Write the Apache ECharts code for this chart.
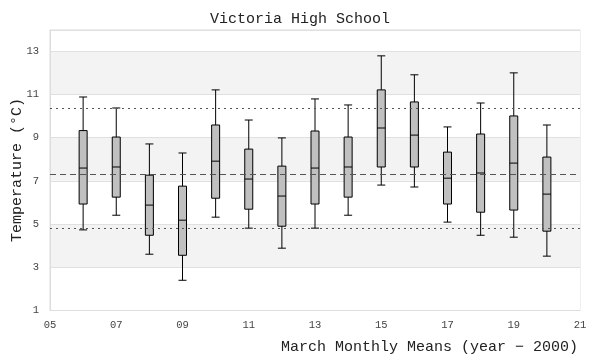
<!DOCTYPE html>
<html><head><meta charset="utf-8">
<script src="https://cdn.jsdelivr.net/npm/echarts@6/dist/echarts.min.js"></script>
<style>html,body{margin:0;padding:0;background:#fff}#c{width:600px;height:360px}</style>
</head><body><div id="c"></div>
<script>
const years   = [6, 7, 8, 9, 10, 11, 12, 13, 14, 15, 16, 17, 18, 19, 20];
const lowVals = [4.72, 5.40, 3.59, 2.38, 5.31, 4.80, 3.87, 4.80, 5.40, 6.80, 6.71, 5.08, 4.47, 4.38, 3.50];
const q1Vals  = [5.92, 6.24, 4.47, 3.54, 6.19, 5.68, 4.89, 5.92, 6.24, 7.64, 7.64, 5.92, 5.54, 5.64, 4.66];
const medVals = [7.59, 7.64, 5.87, 5.17, 7.91, 7.08, 6.29, 7.59, 7.64, 9.45, 9.12, 7.12, 7.36, 7.82, 6.38];
const q3Vals  = [9.33, 9.03, 7.26, 6.75, 9.59, 8.47, 7.68, 9.31, 9.03, 11.22, 10.66, 8.33, 9.17, 10.01, 8.10];
const highVals= [10.89, 10.38, 8.71, 8.29, 11.22, 9.82, 8.99, 10.80, 10.52, 12.80, 11.92, 9.50, 10.61, 12.01, 9.59];
const meanLine = 7.31;
const upperLine = 10.38;
const lowerLine = 4.80;
const xTicks = [5, 7, 9, 11, 13, 15, 17, 19, 21];
const yTicks = [1, 3, 5, 7, 9, 11, 13];

const boxData = years.map((y, i) => [y, lowVals[i], q1Vals[i], medVals[i], q3Vals[i], highVals[i]]);
const FONT = '"Liberation Mono", "DejaVu Sans Mono", monospace';

const chart = echarts.init(document.getElementById('c'), null, {renderer: 'canvas'});
chart.setOption({
  animation: false,
  backgroundColor: '#ffffff',
  title: {
    text: 'Victoria High School',
    left: 'center',
    top: 7,
    textStyle: {fontFamily: FONT, fontSize: 15, fontWeight: 'normal', color: '#222'}
  },
  grid: {left: 50, right: 20, top: 30, bottom: 50, show: true, borderColor: '#dddddd', borderWidth: 1,
         containLabel: false, outerBoundsMode: 'none'},
  xAxis: {
    type: 'value',
    min: xTicks[0],
    max: xTicks[xTicks.length - 1],
    interval: 2,
    name: 'March Monthly Means (year \u2212 2000)',
    nameLocation: 'end',
    nameGap: -2,
    nameMoveOverlap: false,
    nameTextStyle: {fontFamily: FONT, fontSize: 15, color: '#222', align: 'right', verticalAlign: 'top', padding: [30, 0, 0, 0]},
    axisLine: {lineStyle: {color: '#dddddd'}},
    axisTick: {show: false},
    splitLine: {show: false},
    axisLabel: {
      fontFamily: FONT, fontSize: 10.5, color: '#444', margin: 10,
      formatter: v => String(v).padStart(2, '0')
    }
  },
  yAxis: {
    type: 'value',
    min: yTicks[0],
    max: 14,
    interval: 2,
    name: 'Temperature (\u00b0C)',
    nameLocation: 'middle',
    nameGap: 25,
    nameMoveOverlap: false,
    nameTextStyle: {fontFamily: FONT, fontSize: 15, color: '#222'},
    axisLine: {show: true, lineStyle: {color: '#dddddd'}},
    axisTick: {show: false},
    axisLabel: {fontFamily: FONT, fontSize: 10.5, color: '#444', margin: 11, showMaxLabel: false},
    splitLine: {show: true, lineStyle: {color: '#e0e0e0'}},
    splitArea: {show: true, areaStyle: {color: ['#ffffff', '#f3f3f3']}}
  },
  series: [{
    type: 'boxplot',
    data: boxData,
    boxWidth: [8, 8],
    itemStyle: {color: '#c0c0c0', borderColor: '#000000', borderWidth: 1},
    emphasis: {disabled: true},
    markLine: {
      silent: true,
      symbol: 'none',
      label: {show: false},
      animation: false,
      data: [
        {yAxis: meanLine, lineStyle: {color: '#555', type: [6, 4], width: 1}},
        {yAxis: upperLine, lineStyle: {color: '#555', type: [2, 4], width: 1}},
        {yAxis: lowerLine, lineStyle: {color: '#555', type: [2, 4], width: 1}}
      ]
    }
  }]
});
</script></body></html>
